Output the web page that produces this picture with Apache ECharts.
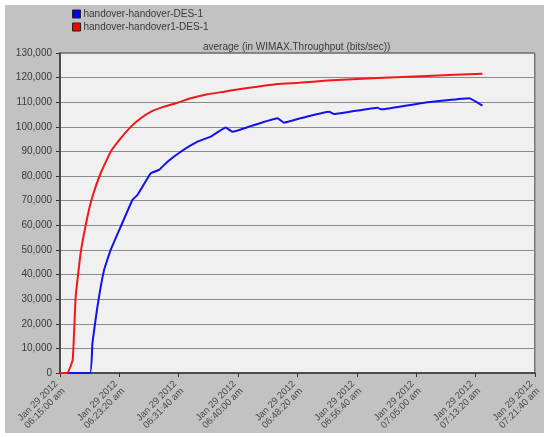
<!DOCTYPE html>
<html>
<head>
<meta charset="utf-8">
<script src="https://cdn.jsdelivr.net/npm/echarts@6/dist/echarts.min.js"></script>
<style>
html,body{margin:0;padding:0;background:#ffffff;}
#bg{position:absolute;left:5px;top:5px;width:539px;height:428px;background:#c2c2c2;}
#chart{position:absolute;left:0;top:0;width:544px;height:437px;}
</style>
</head>
<body>
<div id="bg"></div>
<div id="chart"></div>
<script>
// seconds since 06:15:00
var seriesNames = ['handover-handover-DES-1', 'handover-handover1-DES-1'];
var blueTimes  = [0, 253, 273, 315, 371, 427, 511, 610, 652, 764, 834, 905, 1017, 1158, 1270, 1396, 1453, 1607, 1832, 1888, 2028, 2267, 2309, 2675, 2703, 3068, 3447, 3559];
var blueValues = [0, 0, 12000, 26900, 41800, 50000, 59400, 70300, 72300, 81100, 82500, 85800, 89900, 94000, 96000, 99700, 98000, 100300, 103500, 101700, 103500, 106100, 105200, 107800, 107100, 109800, 111600, 108600];
var redTimes  = [0, 62, 107, 132, 174, 231, 273, 343, 427, 511, 596, 680, 764, 876, 989, 1101, 1242, 1382, 1495, 1663, 1832, 2011, 2253, 2675, 3096, 3559];
var redValues = [0, 0, 5300, 31000, 48750, 63500, 71600, 81250, 89900, 95300, 100000, 103500, 106100, 108200, 109800, 111600, 113200, 114300, 115200, 116300, 117400, 117900, 118800, 119800, 120700, 121600];
var xTickLabels = ['Jan 29 2012\n06:15:00 am', 'Jan 29 2012\n06:23:20 am', 'Jan 29 2012\n06:31:40 am', 'Jan 29 2012\n06:40:00 am', 'Jan 29 2012\n06:48:20 am', 'Jan 29 2012\n06:56:40 am', 'Jan 29 2012\n07:05:00 am', 'Jan 29 2012\n07:13:20 am', 'Jan 29 2012\n07:21:40 am'];
var titleText = 'average (in WIMAX.Throughput (bits/sec))';

function pairs(t, v) { return t.map(function (x, i) { return [x, v[i]]; }); }

var chart = echarts.init(document.getElementById('chart'), null, {renderer: 'canvas'});
var fontFam = '"Liberation Sans", Arial, sans-serif';
chart.setOption({
  backgroundColor: 'transparent',
  animation: false,
  textStyle: {fontFamily: fontFam},
  title: {
    text: titleText,
    left: 198, top: 37,
    textStyle: {fontSize: 10, fontWeight: 'normal', color: '#3a3a3a', fontFamily: fontFam}
  },
  legend: {
    orient: 'vertical', left: 67, top: 4, itemGap: 3,
    itemWidth: 8, itemHeight: 8, icon: 'rect',
    textStyle: {fontSize: 10, color: '#3a3a3a', fontFamily: fontFam, padding: [0,0,0,-2]},
    data: [
      {name: seriesNames[0], itemStyle: {color: '#0000ff', borderColor: '#222', borderWidth: 1}},
      {name: seriesNames[1], itemStyle: {color: '#ff0000', borderColor: '#222', borderWidth: 1}}
    ]
  },
  grid: {left: 60, right: 9, top: 53, bottom: 64, show: true, backgroundColor: '#f0f0f0', borderColor: '#444', borderWidth: 1},
  xAxis: {
    type: 'value', min: 0, max: 4000, interval: 500,
    axisLine: {show: true, lineStyle: {color: '#333', width: 1.5}},
    axisTick: {show: true, length: 4, lineStyle: {color: '#333'}},
    splitLine: {show: false},
    axisLabel: {
      rotate: 45, fontSize: 9.5, color: '#4a4a4a', fontFamily: fontFam, margin: 13, lineHeight: 10,
      formatter: function (v) { return xTickLabels[Math.round(v / 500)] || ''; }
    }
  },
  yAxis: {
    type: 'value', min: 0, max: 130000, interval: 10000,
    axisLine: {show: true, lineStyle: {color: '#333', width: 1.5}},
    axisTick: {show: true, length: 4, lineStyle: {color: '#333'}},
    splitLine: {show: true, lineStyle: {color: '#8a8a8a', width: 1}},
    axisLabel: {
      fontSize: 10, color: '#3a3a3a', fontFamily: fontFam, margin: 8,
      formatter: function (v) { return v.toLocaleString('en-US'); }
    }
  },
  series: [
    {name: seriesNames[0], type: 'line', data: pairs(blueTimes, blueValues), showSymbol: false, smooth: 0.1,
     lineStyle: {color: '#1010f0', width: 2}, itemStyle: {color: '#0000ff'}},
    {name: seriesNames[1], type: 'line', data: pairs(redTimes, redValues), showSymbol: false, smooth: 0.1,
     lineStyle: {color: '#f01818', width: 2}, itemStyle: {color: '#ff0000'}}
  ]
});
</script>
</body>
</html>
